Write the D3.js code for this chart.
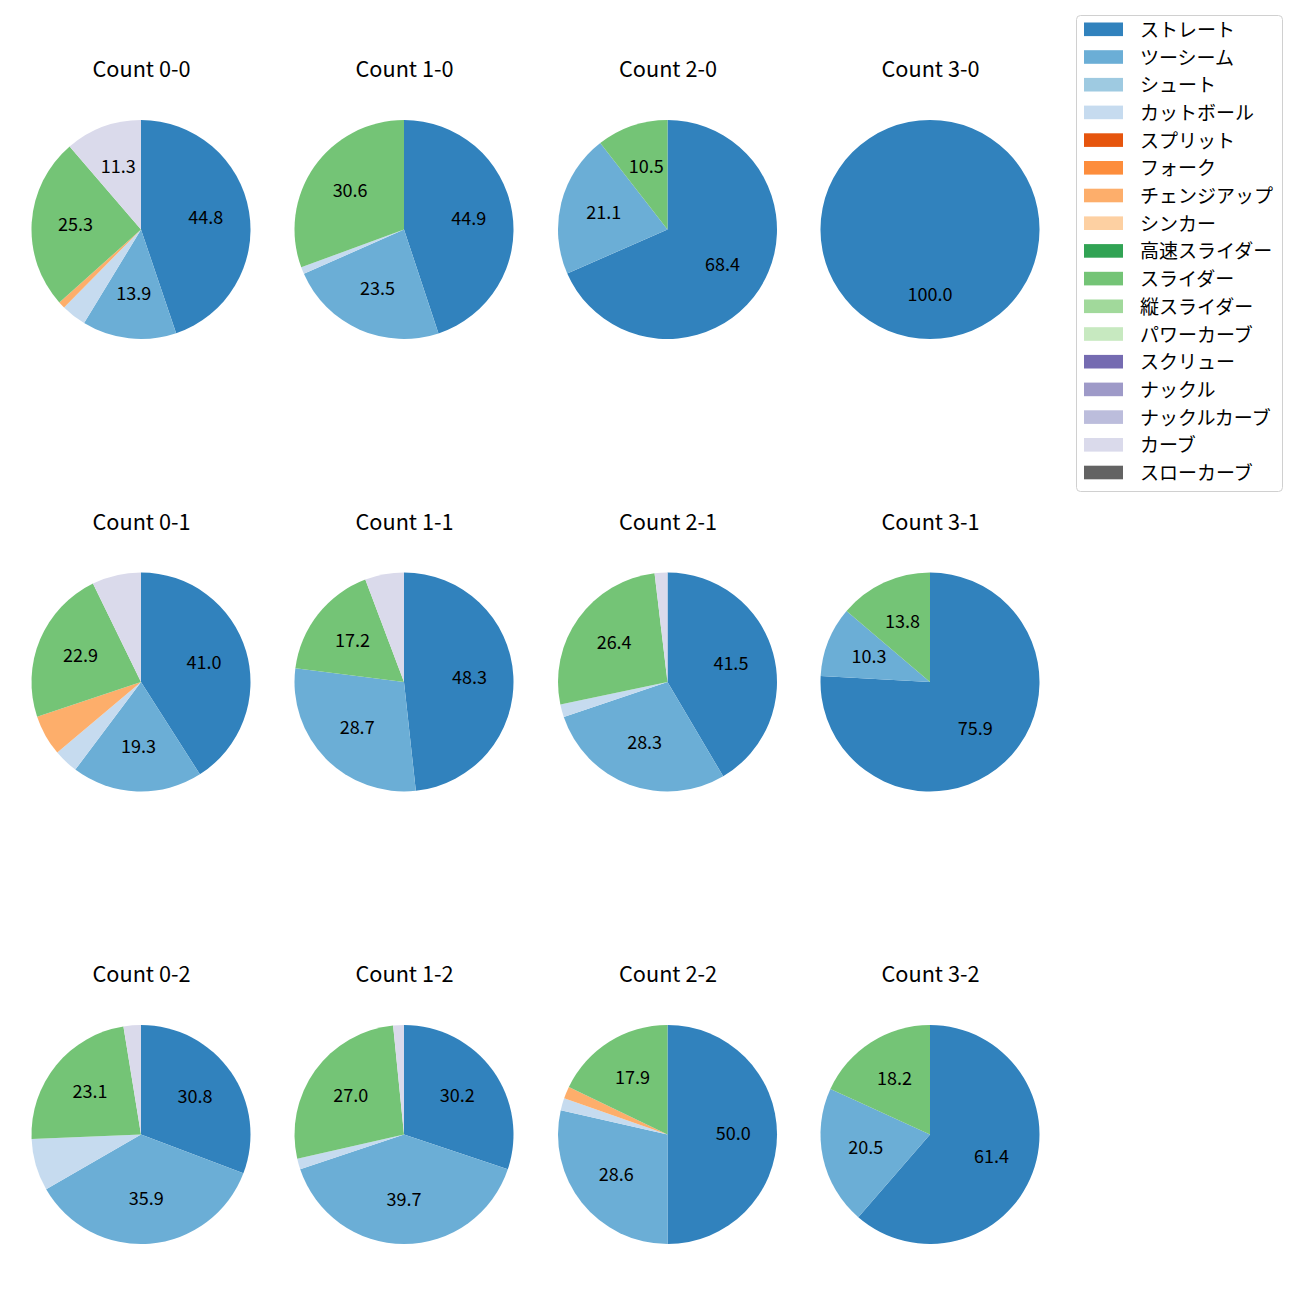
<!DOCTYPE html>
<html>
<head>
<meta charset="utf-8">
<script src="https://cdn.jsdelivr.net/npm/d3@7"></script>
<style>
  body { margin: 0; background: #fff; }
  svg text { font-family: "Noto Sans CJK JP", "Noto Sans", sans-serif; }
</style>
</head>
<body>
<svg id="chart" width="1300" height="1300"></svg>
<script>
// ---- data ----
const pitchTypes = ["ストレート","ツーシーム","シュート","カットボール","スプリット","フォーク","チェンジアップ","シンカー","高速スライダー","スライダー","縦スライダー","パワーカーブ","スクリュー","ナックル","ナックルカーブ","カーブ","スローカーブ"];
const pitchColors = ["#3182bd","#6baed6","#9ecae1","#c6dbef","#e6550d","#fd8d3c","#fdae6b","#fdd0a2","#31a354","#74c476","#a1d99b","#c7e9c0","#756bb1","#9e9ac8","#bcbddc","#dadaeb","#636363"];
const countLabels = ["Count 0-0","Count 1-0","Count 2-0","Count 3-0",
                     "Count 0-1","Count 1-1","Count 2-1","Count 3-1",
                     "Count 0-2","Count 1-2","Count 2-2","Count 3-2"];
// per pitch type, one value per count panel (order of countLabels)
const straight   = [44.8, 44, 13, 1, 34, 42, 22, 22, 12, 19, 28, 27];
const twoSeam    = [13.9, 23,  4, 0, 16, 25, 15,  3, 14, 25, 16,  9];
const cutBall    = [ 3.7,  1,  0, 0,  3,  0,  1,  0,  3,  1,  1,  0];
const changeUp   = [ 1.0,  0,  0, 0,  5,  0,  0,  0,  0,  0,  1,  0];
const slider     = [25.3, 30,  2, 0, 19, 15, 14,  4,  9, 17, 10,  8];
const curve      = [11.3,  0,  0, 0,  6,  5,  1,  0,  1,  1,  0,  0];
const zeros      = [0,0,0,0,0,0,0,0,0,0,0,0];
const seriesByType = [straight, twoSeam, zeros, cutBall, zeros, zeros, changeUp, zeros, zeros, slider, zeros, zeros, zeros, zeros, zeros, curve, zeros];

// ---- layout ----
const colX = [141, 404, 667.5, 930];
const rowY = [229.5, 682, 1134.5];
const radius = 109.5;

const svg = d3.select("#chart");
const color = d3.scaleOrdinal().domain(pitchTypes).range(pitchColors);

const pie = d3.pie().sort(null).value(d => d.v)
  .startAngle(0).endAngle(2 * Math.PI);
const arc = d3.arc().innerRadius(0).outerRadius(radius);
const labelArc = d3.arc().innerRadius(radius * 0.6).outerRadius(radius * 0.6);

countLabels.forEach((lbl, i) => {
  const cx = colX[i % 4], cy = rowY[Math.floor(i / 4)];
  const data = pitchTypes.map((t, k) => ({ t, v: seriesByType[k][i] })).filter(d => d.v > 0);
  const total = d3.sum(data, d => d.v);
  const g = svg.append("g").attr("transform", `translate(${cx},${cy})`);
  const arcs = pie(data);
  g.selectAll("path").data(arcs).join("path")
    .attr("d", arc)
    .attr("fill", d => color(d.data.t));
  g.selectAll("text.pct").data(arcs.filter(d => d.data.v / total * 100 >= 10)).join("text")
    .attr("class", "pct")
    .attr("transform", d => { const c = labelArc.centroid(d); return `translate(${c[0]},${c[1] - 2.5})`; })
    .attr("text-anchor", "middle")
    .attr("dominant-baseline", "central")
    .attr("font-size", 18)
    .attr("fill", "#000")
    .text(d => (d.data.v / total * 100).toFixed(1));
  svg.append("text")
    .attr("x", cx + 0.5).attr("y", cy - 162)
    .attr("text-anchor", "middle")
    .attr("dominant-baseline", "central")
    .attr("font-size", 21.7)
    .attr("fill", "#000")
    .text(lbl);
});

// ---- legend ----
const lg = svg.append("g");
lg.append("rect")
  .attr("x", 1076.5).attr("y", 15.5).attr("width", 206).attr("height", 476)
  .attr("rx", 4).attr("fill", "#fff").attr("stroke", "#d0d0d0").attr("stroke-width", 1);
const rowStep = 27.7;
const items = lg.selectAll("g.item").data(pitchTypes).join("g")
  .attr("class", "item")
  .attr("transform", (d, k) => `translate(0,${29.3 + k * rowStep})`);
items.append("rect")
  .attr("x", 1084).attr("y", -6.8).attr("width", 39).attr("height", 13.6)
  .attr("fill", d => color(d));
items.append("text")
  .attr("x", 1140).attr("y", -1)
  .attr("dominant-baseline", "central")
  .attr("font-size", 19)
  .attr("fill", "#000")
  .text(d => d);
</script>
</body>
</html>
